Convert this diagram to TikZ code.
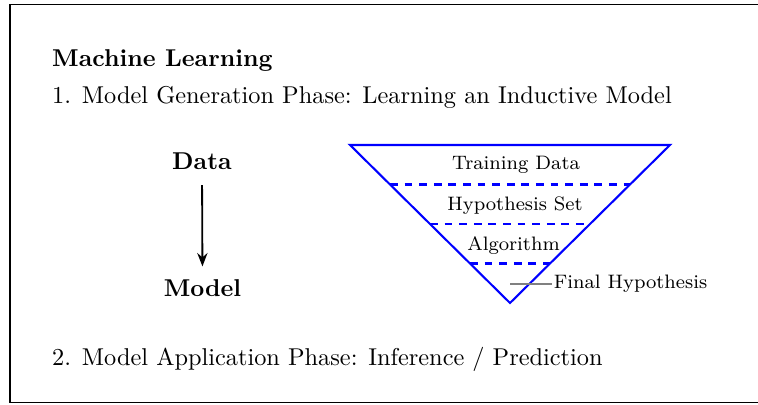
\documentclass[tikz,border=0pt]{standalone}
\usetikzlibrary{arrows.meta,calc}
\begin{document}
\begin{tikzpicture}[x=0.411pt,y=-0.411pt,
  frame/.style={draw=black,line width=0.8pt},
  funnel/.style={draw=blue,line width=0.85pt},
  layer/.style={draw=blue,line width=0.85pt,dash pattern=on 3.2pt off 2.8pt},
  txt/.style={inner sep=0pt},
  lbl/.style={inner sep=0pt,font=\footnotesize,anchor=base},
  leader/.style={draw=gray,line width=0.75pt},
  flow/.style={draw=black,line width=0.75pt,-{Stealth[length=5.5pt,width=4.2pt]}}]
\useasboundingbox (0,0) rectangle (758,405);
\draw[frame] (762,4.5) -- (10,4.5) -- (10,402.5) -- (762,402.5);
% headings
\node[txt,anchor=base west,font=\bfseries] (title) at (51.7,66.7) {Machine Learning};
\node[txt,anchor=base west] (phase1) at (51.7,103.3) {1. Model Generation Phase: Learning an Inductive Model};
\node[txt,anchor=base west] (phase2) at (51.7,365) {2. Model Application Phase: Inference / Prediction};
% data -> model
\node[txt,anchor=base,font=\bfseries] (data) at (202,170) {Data};
\node[txt,anchor=base,font=\bfseries] (model) at (202.5,296.7) {Model};
\draw[flow,shorten <=6pt,shorten >=5.3pt] (data.south) -- (model.north);
% funnel
\coordinate (A) at (350,145);
\coordinate (B) at (670,145);
\coordinate (C) at (510,303);
\draw[funnel] (A) -- (B) -- (C) -- cycle;
\draw[layer] ($(A)!0.25!(C)$) -- ($(B)!0.25!(C)$);
\draw[layer] ($(A)!0.5!(C)$) -- ($(B)!0.5!(C)$);
\draw[layer] ($(A)!0.75!(C)$) -- ($(B)!0.75!(C)$);
\node[lbl] (td) at (516,169) {Training Data};
\node[lbl] (hs) at (515,210) {Hypothesis Set};
\node[lbl] (alg) at (513.5,250) {Algorithm};
\node[inner sep=0.8pt,font=\footnotesize,anchor=west] (fh) at (551.5,284) {Final Hypothesis};
\coordinate (fhstart) at (510,284);
\draw[leader] (fhstart) -- (fh.west);
\end{tikzpicture}
\end{document}
